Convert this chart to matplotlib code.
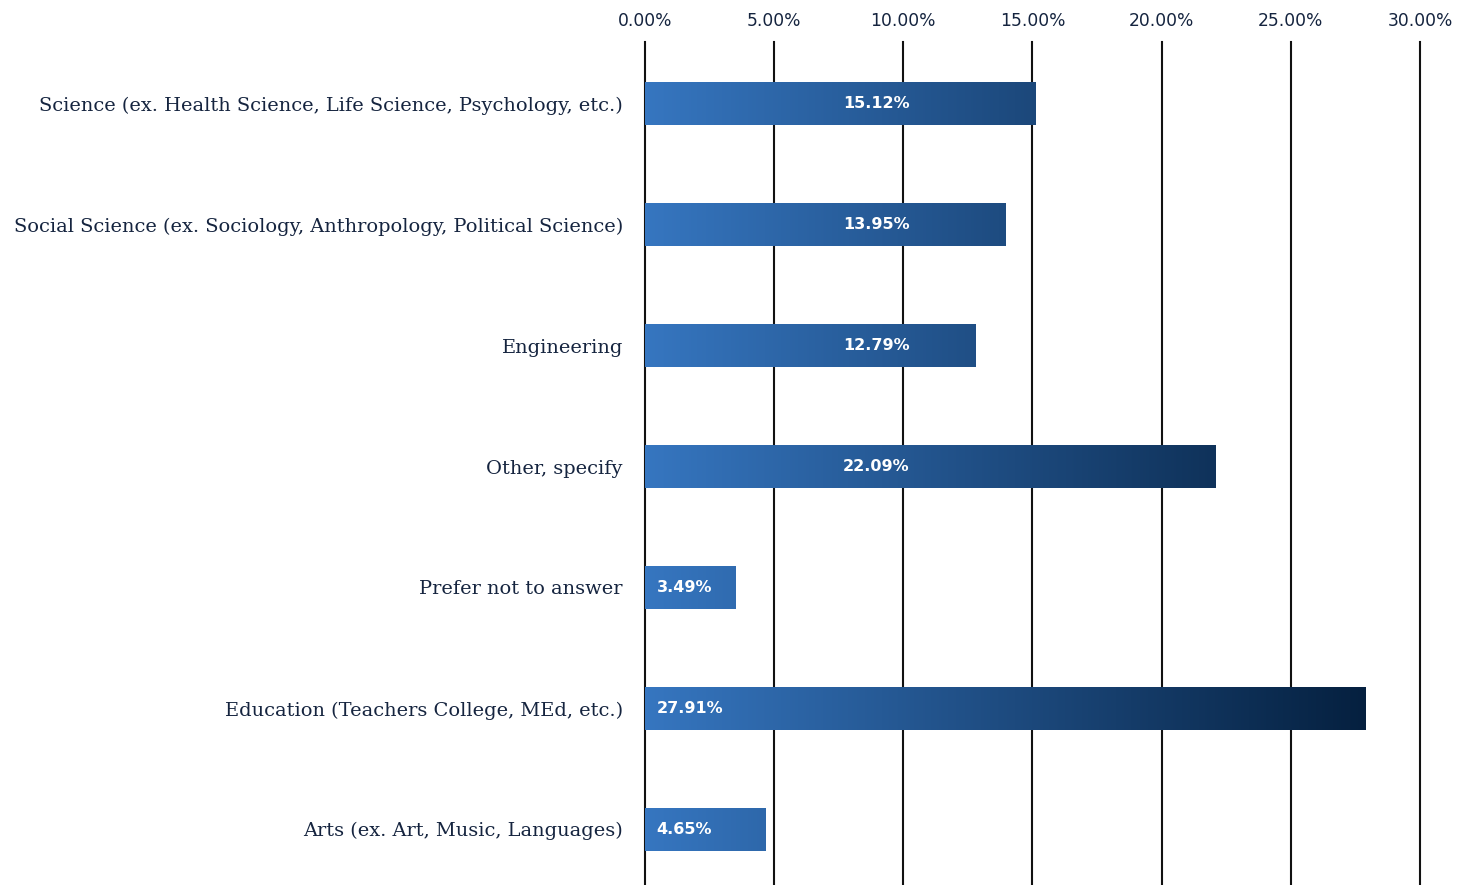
import numpy as np
import matplotlib.pyplot as plt
from matplotlib.colors import LinearSegmentedColormap
from matplotlib.patches import Rectangle

categories = [
    'Science (ex. Health Science, Life Science, Psychology, etc.)',
    'Social Science (ex. Sociology, Anthropology, Political Science)',
    'Engineering',
    'Other, specify',
    'Prefer not to answer',
    'Education (Teachers College, MEd, etc.)',
    'Arts (ex. Art, Music, Languages)',
]
values = [15.12, 13.95, 12.79, 22.09, 3.49, 27.91, 4.65]
ticks = [0, 5, 10, 15, 20, 25, 30]

text_col = '#15243f'
grad = LinearSegmentedColormap.from_list('bluegrad', ['#3676c0', '#05203f'])

fig = plt.figure(figsize=(14.73, 8.85), dpi=100)
ax = fig.add_axes([0.4379, 0.0, 0.5261, 0.9525])

# vertical grid lines, drawn under the bars
for t in ticks:
    ax.axvline(t, color='#111111', lw=1.5, zorder=1, clip_on=False)

# gradient image shared by all bars, clipped to each bar
gx = np.linspace(0, 1, 600).reshape(1, -1)
bar_h = 0.36
for i, v in enumerate(values):
    rect = Rectangle((0, i - bar_h / 2), v, bar_h, facecolor='none', edgecolor='none')
    ax.add_patch(rect)
    im = ax.imshow(gx, cmap=grad, aspect='auto', extent=(0, 28, i + bar_h / 2, i - bar_h / 2),
                   zorder=2, interpolation='bilinear')
    im.set_clip_path(rect)
    lbl = f'{v:.2f}%'
    if 10 < v < 25:
        ax.text(8.95, i, lbl, ha='center', va='center', color='white',
                fontsize=11.5, fontweight='bold', family='DejaVu Sans', zorder=3)
    else:
        ax.text(0.45, i, lbl, ha='left', va='center', color='white',
                fontsize=11.5, fontweight='bold', family='DejaVu Sans', zorder=3)

ax.set_xlim(0, 30)
ax.set_ylim(6.46, -0.51)

ax.xaxis.tick_top()
ax.set_xticks(ticks)
ax.set_xticklabels([f'{t:.2f}%' for t in ticks], family='DejaVu Sans', fontsize=12.3,
                   color=text_col)
ax.tick_params(axis='x', length=0, pad=9)
ax.set_yticks(range(len(categories)))
ax.set_yticklabels(categories, family='DejaVu Serif', fontsize=13.95, color=text_col)
ax.tick_params(axis='y', length=0, pad=16)

for s in ax.spines.values():
    s.set_visible(False)

fig.savefig('out.png', dpi=100, facecolor='white')
